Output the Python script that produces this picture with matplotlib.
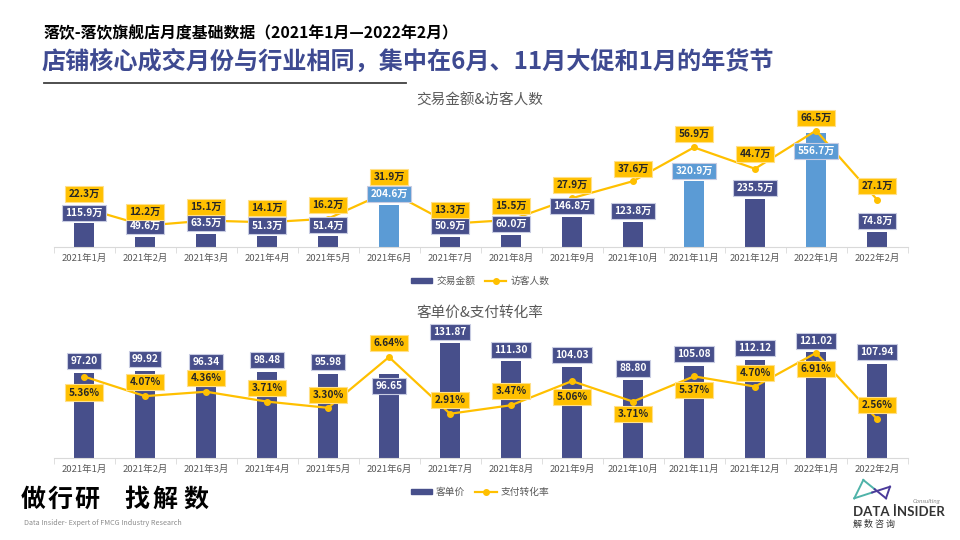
import matplotlib
matplotlib.use("Agg")
import matplotlib.pyplot as plt
from matplotlib.lines import Line2D
from matplotlib.patches import Patch

plt.rcParams["font.family"] = ["Noto Sans CJK SC", "DejaVu Sans"]

months = ["2021年1月", "2021年2月", "2021年3月", "2021年4月", "2021年5月", "2021年6月",
          "2021年7月", "2021年8月", "2021年9月", "2021年10月", "2021年11月", "2021年12月",
          "2022年1月", "2022年2月"]
gmv = [115.9, 49.6, 63.5, 51.3, 51.4, 204.6, 50.9, 60.0, 146.8, 123.8, 320.9, 235.5, 556.7, 74.8]
visitors = [22.3, 12.2, 15.1, 14.1, 16.2, 31.9, 13.3, 15.5, 27.9, 37.6, 56.9, 44.7, 66.5, 27.1]
unit_price = [97.20, 99.92, 96.34, 98.48, 95.98, 96.65, 131.87, 111.30, 104.03, 88.80,
              105.08, 112.12, 121.02, 107.94]
conversion = [5.36, 4.07, 4.36, 3.71, 3.30, 6.64, 2.91, 3.47, 5.06, 3.71, 5.37, 4.70, 6.91, 2.56]
promo_months = ["2021年6月", "2021年11月", "2022年1月"]

NAVY = "#474F8B"
LIGHT_BLUE = "#5B9BD5"
GOLD = "#FFC000"
GREY = "#595959"
TITLE_BLUE = "#3E4A91"

# label offsets in pixels (positive = above the anchor)
top_bar_dy = [10, 11, 11, 11, 11, 11, 11, 11, 11, 11, 10, 11, -18, 11]
top_line_dy = [14, 14, 14, 14, 14, 14, 14, 14, 13, 12, 13, 15, 13, 14]
low_bar_dy = [12, 12, 12, 12, 12, -12, 11, 11, 12, 12, 12, 12, 11, 12]
low_line_dy = [-16, 14, 14, 14, 13, 14, 14, 14, -16, -12, -14, 14, -16, 14]

W, H = 960, 540


def fx(px):
    return px / W


def fy(py):
    return 1 - py / H


def panel(fig, top_px, base_px, bars, line, ymax, y2max, bar_fmt, line_fmt,
          bar_dy, line_dy, title, title_y, names, legend_y, highlight):
    rect = [fx(53.5), fy(base_px), fx(907.5) - fx(53.5), (base_px - top_px) / H]
    ax = fig.add_axes(rect)
    ax2 = ax.twinx()
    x = list(range(len(months)))
    colors = [LIGHT_BLUE if m in highlight else NAVY for m in months]
    ax.bar(x, bars, width=0.32, color=colors, zorder=2)
    ax2.plot(x, line, color=GOLD, lw=1.6, marker="o", ms=4, zorder=3)

    ax.set_xlim(-0.5, len(months) - 0.5)
    ax.set_ylim(0, ymax)
    ax2.set_ylim(0, y2max)
    for a in (ax, ax2):
        for s in ("top", "right", "left"):
            a.spines[s].set_visible(False)
        a.spines["bottom"].set_color("#D9D9D9")
        a.set_yticks([])
    ax2.spines["bottom"].set_visible(False)
    ax.set_xticks(x)
    ax.set_xticklabels(months, fontsize=6.8, color=GREY)
    ax.tick_params(axis="x", length=0, pad=5)
    ax.set_xticks([i - 0.5 for i in range(len(months) + 1)], minor=True)
    ax.tick_params(axis="x", which="minor", length=4, color="#D9D9D9")

    for i, (b, c) in enumerate(zip(bars, colors)):
        ax2.annotate(bar_fmt(b), xy=(i, b), xycoords=ax.transData,
                     xytext=(0, bar_dy[i] * 0.72), textcoords="offset points",
                     ha="center", va="center", fontsize=7.3, fontweight="bold",
                     color="white", zorder=5, annotation_clip=False,
                     bbox=dict(boxstyle="square,pad=0.3", fc=c, ec="#C8CCE2", lw=0.8))
    for i, v in enumerate(line):
        ax2.annotate(line_fmt(v), xy=(i, v), xycoords=ax2.transData,
                     xytext=(0, line_dy[i] * 0.72), textcoords="offset points",
                     ha="center", va="center", fontsize=7.3, fontweight="bold",
                     color="#262626", zorder=6, annotation_clip=False,
                     bbox=dict(boxstyle="square,pad=0.3", fc=GOLD, ec="#FFE08A", lw=0.8))

    fig.text(0.5, fy(title_y), title, ha="center", va="center", fontsize=10.5, color=GREY)
    handles = [Patch(color=NAVY),
               Line2D([], [], color=GOLD, lw=1.6, marker="o", ms=4)]
    fig.legend(handles, names, loc="center", bbox_to_anchor=(0.5, fy(legend_y)),
               ncol=2, frameon=False, fontsize=7, labelcolor=GREY,
               handlelength=2.2, handleheight=0.5, columnspacing=1.0, handletextpad=0.4)


def main():
    fig = plt.figure(figsize=(9.6, 5.4), dpi=100)
    fig.patch.set_facecolor("white")

    fig.text(fx(44), fy(33), "落饮-落饮旗舰店月度基础数据（2021年1月—2022年2月）",
             ha="left", va="center", fontsize=11.4, fontweight="bold", color="black")
    fig.text(fx(42), fy(62), "店铺核心成交月份与行业相同，集中在6月、11月大促和1月的年货节",
             ha="left", va="center", fontsize=17.4, fontweight="bold", color=TITLE_BLUE)
    fig.add_artist(Line2D([fx(44), fx(406)], [fy(82.5), fy(82.5)], color="#404040", lw=1.3))

    panel(fig, 115, 247, gmv, visitors, 643, 75.4,
          lambda v: f"{v:.1f}万", lambda v: f"{v:.1f}万",
          top_bar_dy, top_line_dy, "交易金额&访客人数", 101, ["交易金额", "访客人数"], 281,
          promo_months)
    panel(fig, 330, 458, unit_price, conversion, 146.6, 8.42,
          lambda v: f"{v:.2f}", lambda v: f"{v:.2f}%",
          low_bar_dy, low_line_dy, "客单价&支付转化率", 313, ["客单价", "支付转化率"], 492,
          [])

    # bottom-left slogan
    for ch, cx in zip("做行研找解数", [33, 60, 87, 137, 165, 196]):
        fig.text(fx(cx), fy(500), ch, ha="center", va="center", fontsize=18,
                 fontweight="heavy", color="black")
    fig.text(fx(24), fy(523), "Data Insider- Expert of FMCG Industry Research",
             ha="left", va="center", fontsize=5.2, color="#8C8C8C")

    # bottom-right logo
    teal, purple = "#4FB3A9", "#4B3B9A"
    A, B, C, D = (863.3, 480), (854.3, 498.3), (890, 486.7), (886, 498.3)

    def seg(p, q, col):
        fig.add_artist(Line2D([fx(p[0]), fx(q[0])], [fy(p[1]), fy(q[1])], color=col, lw=1.4))

    def mid(p, q):
        return ((p[0] + q[0]) / 2, (p[1] + q[1]) / 2)

    seg(A, B, teal)
    seg(B, mid(B, C), teal)
    seg(mid(B, C), C, purple)
    seg(A, mid(A, D), teal)
    seg(mid(A, D), D, purple)
    seg(C, D, purple)
    fig.text(fx(853), fy(512), "DATA İNSIDER", ha="left", va="center", fontsize=9.5,
             fontweight="bold", color="#333333", family="Lato")
    fig.text(fx(940), fy(501), "Consulting", ha="right", va="center", fontsize=4.5,
             style="italic", color="#8C8C8C", family="Lato")
    fig.text(fx(853), fy(524), "解 数 咨 询", ha="left", va="center", fontsize=6.5,
             color="#333333")

    fig.savefig("out.png", dpi=100, facecolor="white")
    plt.close(fig)


if __name__ == "__main__":
    main()
